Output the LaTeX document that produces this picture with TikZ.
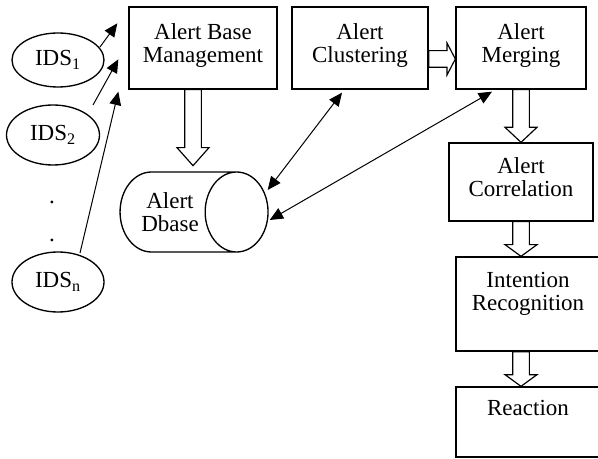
\documentclass[tikz,border=0pt]{standalone}
\usepackage{fontspec}
\setmainfont{Liberation Serif}
\usetikzlibrary{arrows.meta,shapes.geometric,calc}

\begin{document}
\begin{tikzpicture}[x=0.6pt, y=-0.6pt,
    font=\fontsize{13.8}{13.8}\selectfont,
    stage/.style={draw, line width=0.8pt, align=center, inner sep=0pt},
    ids/.style={draw, ellipse, line width=0.8pt, inner sep=0pt},
    store/.style={draw, cylinder, shape aspect=1.25, line width=0.8pt, align=center},
    arr/.style={line width=0.6pt, -{Triangle[length=8pt,width=7pt]}},
    darr/.style={line width=0.6pt, {Triangle[length=8pt,width=7pt]}-{Triangle[length=8pt,width=7pt]}},
    hollow/.style={line width=0.7pt, to path={
      let \p1=(\tikztostart), \p2=(\tikztotarget),
          \n1={atan2(\y2-\y1,\x2-\x1)}, \n2={veclen(\x2-\x1,\y2-\y1)} in
      ($(\p1)+(\n1+90:5pt)$) -- ++(\n1:{\n2-#1}) -- ++(\n1+90:4.6pt)
      -- (\p2) -- ($(\p2)+(\n1+180:#1)+(\n1-90:9.6pt)$)
      -- ++(\n1+90:4.6pt) -- ++(\n1+180:{\n2-#1}) -- cycle}},
    hollow/.default=7pt]
         \useasboundingbox (0,0) rectangle (598,459);
         \node[stage, minimum width=88.8pt, minimum height=49.2pt, text depth=5.4pt] (ABM) at (203,48) {Alert Base\\Management};
         \node[stage, minimum width=81.6pt, minimum height=49.2pt, text depth=5.4pt] (AC) at (360,48) {Alert\\Clustering};
         \node[stage, minimum width=78pt, minimum height=49.2pt, text depth=5.4pt] (AM) at (521,48) {Alert\\Merging};
         \node[stage, minimum width=86.4pt, minimum height=46.8pt, text depth=5.4pt] (ACR) at (521,182) {Alert\\Correlation};
         \node[stage, minimum width=86.4pt, minimum height=56.4pt, text depth=15pt] (IR) at (528,304) {Intention\\Recognition};
         \node[stage, minimum width=86.4pt, minimum height=42pt, text depth=16.8pt] (RE) at (528,422) {Reaction};
         \node[store, minimum width=48pt, minimum height=88.8pt] (DB) at (170,212) {Alert\\Dbase};
         \node[ids, minimum width=55.2pt, minimum height=32.4pt] (I1) at (58,60) {IDS\textsubscript{1}};
         \node[ids, minimum width=55.8pt, minimum height=36pt] (I2) at (53,135) {IDS\textsubscript{2}};
         \node[ids, minimum width=55.2pt, minimum height=36pt] (IN) at (58,282) {IDS\textsubscript{n}};
         \node (D1) at (52,202) {.};
         \node (D2) at (52,240) {.};
         \draw [arr] ($(I1)+(42,-13)$) -- ($(ABM.north west)+(-11,17)$);
         \draw [arr] ($(I2)+(40,-30)$) -- ($(ABM.north west)+(-10,53)$);
         \draw [arr] ($(IN)+(22,-29)$) -- ($(ABM.south west)+(-10,2)$);
         \draw [darr] ($(DB.east)+(-1,-22)$) -- ($(AC.south)+(-18,3)$);
         \draw [darr] ($(DB.east)+(1,8)$) -- ($(AM.south)+(-29,2)$);
         \draw [hollow=10.8pt] ($(ABM.south)+(-10,0)$) to ($(ABM.south)+(-10,76)$);
         \draw [hollow=5pt] ([yshift=-6.6pt]AC.east) to ([yshift=-6.6pt]AM.west);
         \draw [hollow=9pt] (AM.south) to (ACR.north);
         \draw [hollow] (ACR.south) to (ACR.south |- IR.north);
         \draw [hollow] (ACR.south |- IR.south) to (ACR.south |- RE.north);
 \end{tikzpicture}
\end{document}
